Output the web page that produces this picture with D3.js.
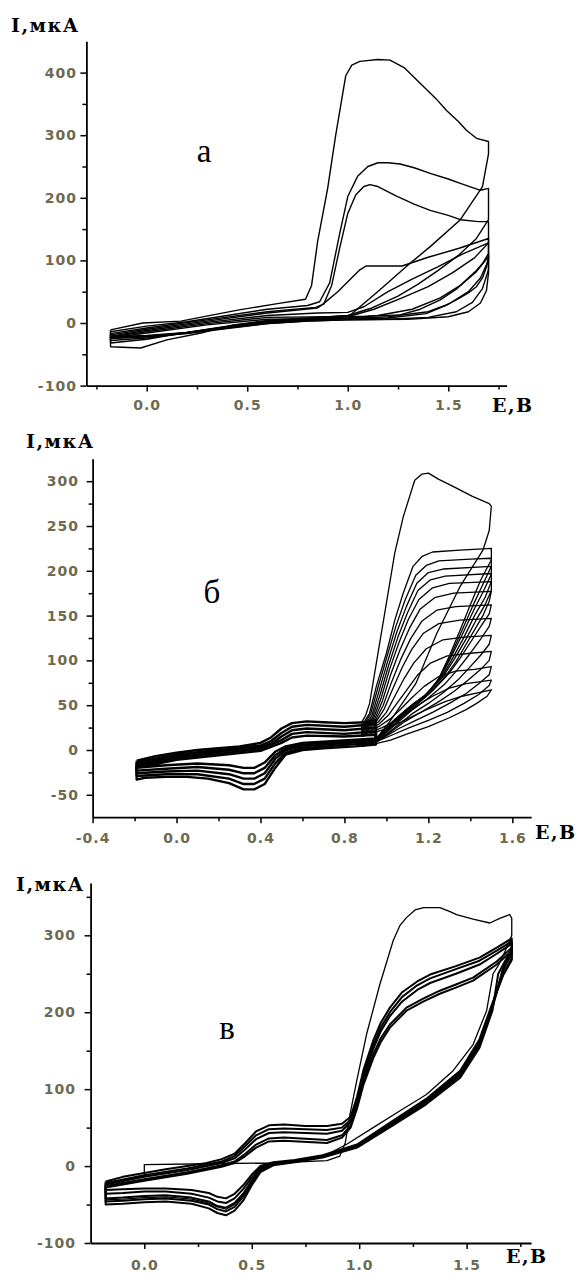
<!DOCTYPE html>
<html lang="ru">
<head>
<meta charset="UTF-8">
<title>Циклические вольтамперограммы</title>
<script src="https://d3js.org/d3.v7.min.js"></script>
<style>
    body { margin: 0; background: #fff; }
    svg { display: block; }
    .curve { fill: none; stroke: #000; stroke-linejoin: round; }
    .domain { stroke: #000; stroke-width: 1.8px; }
    .tick line { stroke: #000; stroke-width: 1.5px; }
    .tick text { font-family: "DejaVu Sans", sans-serif; font-size: 14px; font-weight: bold; fill: #6e6a50; letter-spacing: 1px; }
    .axis-title { font-family: "DejaVu Serif", serif; font-size: 19px; font-weight: bold; fill: #000; letter-spacing: 1.5px; }
    .panel-label { font-family: "Liberation Serif", serif; font-size: 33px; fill: #000; }
</style>
</head>
<body>
<script>
// --- panel а ---
const xTicksA = [0.0, 0.5, 1.0, 1.5];
const xMinorA = [-0.25, 0.25, 0.75, 1.25, 1.75];
const yTicksA = [-100, 0, 100, 200, 300, 400];
const yMinorA = [-50, 50, 150, 250, 350];
const cyclesA = [
    [[-0.18,-11],[-0.02,0],[0.17,3],[0.33,13],[0.46,21],[0.65,31],[0.79,38],[0.82,60],[0.85,130],[0.9,215],[0.94,300],[0.99,395],[1.02,412],[1.06,418],[1.15,421],[1.21,420],[1.28,408],[1.36,383],[1.44,358],[1.49,340],[1.55,322],[1.59,308],[1.64,295],[1.7,290],[1.7,270],[1.67,218],[1.56,165],[1.41,122],[1.29,90],[1.16,53],[1.01,12],[0.8,8],[0.6,4],[0.43,-3],[0.27,-16],[0.1,-27],[-0.03,-40],[-0.18,-38],[-0.18,-11]],
    [[-0.18,-14],[0,-5],[0.2,2],[0.4,12],[0.6,22],[0.8,28],[0.86,34],[0.91,64],[0.96,143],[1.0,202],[1.05,235],[1.1,250],[1.15,256],[1.2,256],[1.26,254],[1.33,248],[1.41,239],[1.5,230],[1.56,223],[1.66,212],[1.7,215],[1.7,165],[1.64,135],[1.55,108],[1.45,84],[1.35,62],[1.25,43],[1.12,24],[1.0,12],[0.8,7],[0.6,3],[0.4,-5],[0.2,-15],[0,-26],[-0.18,-32],[-0.18,-14]],
    [[-0.18,-17],[0,-8],[0.3,5],[0.6,18],[0.84,25],[0.88,30],[0.92,60],[0.96,120],[1.0,175],[1.04,205],[1.08,218],[1.11,221],[1.15,218],[1.24,203],[1.33,190],[1.41,180],[1.5,172],[1.56,165],[1.65,162],[1.7,162],[1.7,128],[1.63,104],[1.52,80],[1.4,58],[1.27,40],[1.13,22],[1.0,10],[0.8,6],[0.6,2],[0.4,-6],[0.2,-16],[0,-24],[-0.18,-28],[-0.18,-17]],
    [[-0.18,-19],[0,-10],[0.3,3],[0.6,16],[0.85,24],[0.88,31],[0.95,50],[1.01,69],[1.06,85],[1.09,91],[1.27,91],[1.4,105],[1.55,119],[1.7,135],[1.7,106],[1.64,82],[1.56,60],[1.46,40],[1.32,22],[1.15,12],[1.0,8],[0.8,5],[0.6,1],[0.4,-6],[0.2,-15],[0,-22],[-0.18,-25],[-0.18,-19]],
    [[-0.18,-21],[0,-12],[0.3,1],[0.6,12],[0.85,16],[1.0,17],[1.08,26],[1.2,50],[1.32,70],[1.45,90],[1.57,110],[1.7,128],[1.7,100],[1.66,72],[1.6,50],[1.5,30],[1.4,18],[1.2,10],[1.0,7],[0.8,4],[0.6,0],[0.4,-7],[0.2,-15],[0,-20],[-0.18,-22]],
    [[-0.18,-22],[0,-14],[0.3,-1],[0.6,9],[0.9,10],[1.1,11],[1.26,13],[1.36,22],[1.46,37],[1.54,54],[1.59,69],[1.64,84],[1.67,95],[1.7,111],[1.7,85],[1.67,55],[1.62,33],[1.54,18],[1.4,9],[1.2,6],[1.0,5],[0.8,3],[0.6,-1],[0.4,-8],[0.2,-16],[0,-21],[-0.18,-23]],
    [[-0.18,-24],[0,-16],[0.3,-3],[0.6,6],[0.9,7],[1.2,8],[1.39,15],[1.48,27],[1.54,37],[1.6,48],[1.64,58],[1.67,72],[1.69,90],[1.7,106],[1.7,80],[1.69,52],[1.66,32],[1.6,18],[1.5,10],[1.3,6],[1.0,5],[0.8,3],[0.6,-1],[0.4,-9],[0.2,-17],[0,-22],[-0.18,-24]]
];

// --- panel б ---
const xTicksB = [-0.4, 0.0, 0.4, 0.8, 1.2, 1.6];
const xMinorB = [-0.2, 0.2, 0.6, 1.0, 1.4];
const yTicksB = [-50, 0, 50, 100, 150, 200, 250, 300];
const yMinorB = [-25, 25, 75, 125, 175, 225, 275];
// low-potential part of the cycles (redox couple)
const lowLoopsB = [
    [[-0.19,-12],[-0.1,-7],[0,-3],[0.1,0],[0.2,2],[0.3,4],[0.4,8],[0.45,14],[0.5,24],[0.55,30],[0.62,32],[0.7,31],[0.8,30],[0.9,31],[0.95,33],[0.95,6],[0.85,4],[0.7,2],[0.6,0],[0.52,-5],[0.47,-20],[0.42,-38],[0.37,-44],[0.32,-44],[0.25,-37],[0.15,-32],[0.05,-30],[-0.05,-30],[-0.15,-31],[-0.19,-33],[-0.19,-12]],
    [[-0.19,-14],[0,-5],[0.2,0],[0.4,5],[0.45,10],[0.5,19],[0.55,26],[0.62,28],[0.8,26],[0.95,29],[0.95,8],[0.7,4],[0.6,2],[0.52,-3],[0.47,-15],[0.42,-32],[0.37,-38],[0.32,-38],[0.25,-32],[0.1,-27],[-0.05,-27],[-0.19,-29],[-0.19,-14]],
    [[-0.19,-16],[0,-7],[0.2,-2],[0.4,3],[0.45,7],[0.5,15],[0.55,22],[0.62,24],[0.8,22],[0.95,25],[0.95,10],[0.7,6],[0.6,4],[0.52,0],[0.47,-10],[0.42,-26],[0.37,-32],[0.32,-32],[0.25,-27],[0.1,-23],[-0.05,-24],[-0.19,-26],[-0.19,-16]],
    [[-0.19,-18],[0,-9],[0.2,-4],[0.4,1],[0.5,11],[0.55,18],[0.62,20],[0.8,18],[0.95,21],[0.95,12],[0.6,6],[0.52,2],[0.47,-6],[0.42,-20],[0.37,-26],[0.32,-26],[0.25,-22],[0.1,-19],[-0.05,-21],[-0.19,-23],[-0.19,-18]],
    [[-0.19,-20],[0,-11],[0.2,-6],[0.4,-1],[0.5,8],[0.55,14],[0.62,16],[0.8,15],[0.95,17],[0.95,13],[0.6,8],[0.52,4],[0.47,-2],[0.42,-14],[0.37,-20],[0.32,-20],[0.25,-17],[0.1,-15],[-0.05,-17],[-0.19,-20]]
];
// high-potential part of the cycles (oxidation wave)
const highCyclesB = [
    [[0.88,30],[0.9,38],[0.92,52],[0.96,108],[1.0,164],[1.04,220],[1.08,260],[1.135,301],[1.17,308],[1.2,309],[1.25,302],[1.32,294],[1.41,283],[1.49,275],[1.5,272],[1.49,245],[1.46,223],[1.35,182],[1.24,130],[1.14,74],[1.02,33],[0.95,12],[0.88,6]],
    [[0.88,26],[0.92,41],[0.952,71],[1.0,108],[1.04,145],[1.08,175],[1.127,205],[1.17,216],[1.22,221],[1.35,223],[1.5,225],[1.5,212],[1.45,190],[1.4,162],[1.35,133],[1.3,105],[1.25,80],[1.2,64],[1.13,52],[1.05,36],[0.96,14],[0.88,6]],
    [[0.88,25],[0.925,40],[0.96,70],[1.0,102],[1.045,138],[1.09,168],[1.14,195],[1.19,206],[1.25,211],[1.4,213],[1.5,214],[1.5,205],[1.46,185],[1.41,160],[1.35,128],[1.3,102],[1.25,79],[1.19,62],[1.12,50],[1.04,34],[0.96,13],[0.88,6]],
    [[0.88,24],[0.93,38],[0.965,66],[1.005,98],[1.05,132],[1.095,160],[1.145,186],[1.2,198],[1.27,202],[1.5,205],[1.5,196],[1.46,176],[1.42,158],[1.36,128],[1.3,100],[1.25,78],[1.18,60],[1.1,46],[1.02,30],[0.95,12],[0.88,6]],
    [[0.88,23],[0.935,37],[0.97,62],[1.01,94],[1.055,126],[1.1,153],[1.15,178],[1.21,190],[1.28,194],[1.5,197],[1.5,188],[1.47,170],[1.42,150],[1.37,126],[1.31,100],[1.26,80],[1.18,60],[1.1,45],[1.02,29],[0.95,12],[0.88,6]],
    [[0.88,22],[0.94,36],[0.975,58],[1.015,90],[1.06,120],[1.105,146],[1.155,168],[1.22,181],[1.3,186],[1.5,188],[1.5,178],[1.47,162],[1.43,146],[1.38,124],[1.32,100],[1.27,82],[1.2,64],[1.12,48],[1.03,30],[0.95,12],[0.88,6]],
    [[0.88,22],[0.945,35],[0.98,54],[1.02,84],[1.065,112],[1.11,136],[1.16,157],[1.23,170],[1.32,175],[1.5,177],[1.49,166],[1.46,150],[1.42,134],[1.38,118],[1.33,98],[1.28,82],[1.2,62],[1.12,46],[1.03,28],[0.95,11],[0.88,6]],
    [[0.88,21],[0.95,34],[0.985,50],[1.025,76],[1.07,102],[1.115,124],[1.17,144],[1.24,156],[1.33,160],[1.5,162],[1.49,152],[1.45,138],[1.4,120],[1.35,102],[1.3,86],[1.22,66],[1.14,50],[1.05,32],[0.96,12],[0.88,6]],
    [[0.88,20],[0.955,33],[0.99,46],[1.03,68],[1.075,92],[1.12,112],[1.175,130],[1.25,141],[1.35,145],[1.5,147],[1.49,138],[1.45,124],[1.4,108],[1.34,90],[1.28,74],[1.2,58],[1.12,44],[1.04,28],[0.96,11],[0.88,6]],
    [[0.88,19],[0.96,31],[1.0,42],[1.04,60],[1.085,80],[1.13,97],[1.19,113],[1.27,123],[1.37,126],[1.5,128],[1.49,118],[1.45,106],[1.4,93],[1.34,78],[1.27,64],[1.2,52],[1.12,40],[1.04,25],[0.96,10],[0.88,6]],
    [[0.88,18],[0.965,29],[1.01,39],[1.05,52],[1.1,68],[1.15,84],[1.21,97],[1.29,105],[1.4,108],[1.5,110],[1.49,100],[1.45,90],[1.39,78],[1.32,65],[1.25,54],[1.17,43],[1.09,32],[1.02,20],[0.95,9],[0.88,5]],
    [[0.88,17],[0.97,27],[1.02,35],[1.07,46],[1.12,58],[1.18,71],[1.25,82],[1.33,88],[1.42,90],[1.5,93],[1.49,84],[1.44,74],[1.38,63],[1.3,52],[1.22,42],[1.14,33],[1.06,24],[0.98,13],[0.88,5]],
    [[0.88,16],[0.98,25],[1.03,31],[1.09,40],[1.15,50],[1.22,60],[1.3,69],[1.38,74],[1.5,78],[1.49,72],[1.44,62],[1.37,52],[1.29,42],[1.2,33],[1.11,25],[1.03,17],[0.95,9],[0.88,5]],
    [[0.88,15],[0.99,23],[1.05,29],[1.12,37],[1.2,46],[1.28,54],[1.36,60],[1.44,64],[1.5,67],[1.48,60],[1.43,52],[1.38,45],[1.3,36],[1.2,26],[1.1,18],[1.02,11],[0.95,7],[0.88,4]]
];

// --- panel в ---
const xTicksC = [0.0, 0.5, 1.0, 1.5];
const xMinorC = [0.25, 0.75, 1.25, 1.75];
const yTicksC = [-100, 0, 100, 200, 300];
const yMinorC = [-50, 50, 150, 250, 350];
// first scan, started at 0 V
const firstCycleC = [
    [[0.0,-12],[0.0,2],[0.3,3],[0.6,4],[0.85,7],[0.91,13],[0.935,30],[0.957,67],[0.988,110],[1.034,171],[1.096,236],[1.158,293],[1.19,313],[1.22,323],[1.26,333],[1.3,336],[1.375,336],[1.42,331],[1.453,327],[1.53,321],[1.608,316],[1.654,322],[1.7,327],[1.71,322],[1.71,300],[1.68,280],[1.65,262],[1.623,250],[1.593,202],[1.53,158],[1.437,124],[1.313,93],[1.19,72],[1.065,50],[0.94,28],[0.85,15],[0.7,6],[0.6,3],[0.54,-5],[0.5,-20],[0.46,-38],[0.42,-50],[0.38,-56],[0.34,-53],[0.3,-48],[0.22,-43],[0.1,-40],[0,-41],[-0.1,-43],[-0.18,-44]]
];
const cyclesC = [
    [[-0.18,-20],[-0.1,-14],[0.0,-9],[0.1,-4],[0.2,0],[0.29,4],[0.36,9],[0.42,16],[0.47,30],[0.52,45],[0.58,53],[0.65,54],[0.75,52],[0.85,52],[0.92,55],[0.96,64],[0.99,90],[1.02,125],[1.065,163],[1.1,186],[1.143,206],[1.2,226],[1.27,240],[1.33,249],[1.45,260],[1.56,271],[1.64,284],[1.71,296],[1.71,282],[1.67,262],[1.647,250],[1.62,202],[1.56,154],[1.47,115],[1.31,80],[1.14,50],[0.99,24],[0.83,11],[0.7,5],[0.6,1],[0.54,-8],[0.5,-25],[0.46,-45],[0.42,-58],[0.38,-64],[0.34,-61],[0.3,-55],[0.22,-49],[0.1,-46],[0.0,-47],[-0.1,-49],[-0.18,-50],[-0.18,-20]],
    [[-0.18,-22],[0,-12],[0.2,-3],[0.36,6],[0.42,13],[0.47,26],[0.52,40],[0.58,48],[0.65,49],[0.85,47],[0.92,50],[0.96,60],[0.99,86],[1.02,120],[1.065,157],[1.1,180],[1.143,200],[1.2,220],[1.27,235],[1.33,244],[1.45,256],[1.56,267],[1.64,280],[1.71,292],[1.71,279],[1.67,258],[1.62,205],[1.56,158],[1.47,118],[1.31,82],[1.14,52],[0.99,25],[0.83,12],[0.7,6],[0.6,3],[0.54,-6],[0.5,-22],[0.46,-40],[0.42,-53],[0.38,-59],[0.34,-56],[0.3,-50],[0.22,-45],[0.1,-42],[0,-43],[-0.1,-45],[-0.18,-46],[-0.18,-22]],
    [[-0.18,-24],[0,-14],[0.2,-5],[0.36,4],[0.42,10],[0.47,22],[0.52,35],[0.58,43],[0.65,44],[0.85,42],[0.92,46],[0.96,57],[0.99,82],[1.02,116],[1.065,152],[1.1,175],[1.143,195],[1.2,214],[1.27,229],[1.33,238],[1.45,250],[1.56,262],[1.64,276],[1.71,289],[1.71,276],[1.67,255],[1.62,208],[1.56,160],[1.47,120],[1.31,84],[1.14,53],[0.99,26],[0.83,12],[0.7,6],[0.6,3],[0.54,-4],[0.5,-19],[0.46,-36],[0.42,-48],[0.38,-54],[0.34,-52],[0.3,-46],[0.22,-41],[0.1,-38],[0,-39],[-0.1,-41],[-0.18,-42],[-0.18,-24]],
    [[-0.18,-26],[0,-17],[0.2,-8],[0.36,1],[0.42,6],[0.47,16],[0.52,28],[0.58,36],[0.65,37],[0.85,34],[0.92,40],[0.96,53],[0.99,78],[1.02,110],[1.065,145],[1.1,166],[1.143,184],[1.22,206],[1.3,218],[1.375,228],[1.45,236],[1.53,245],[1.64,266],[1.71,284],[1.71,270],[1.67,250],[1.62,210],[1.56,162],[1.47,122],[1.31,85],[1.14,54],[0.99,27],[0.83,13],[0.7,7],[0.6,4],[0.54,-2],[0.5,-15],[0.46,-30],[0.42,-42],[0.38,-48],[0.34,-46],[0.3,-41],[0.22,-36],[0.1,-33],[0,-33],[-0.1,-35],[-0.18,-36],[-0.18,-26]],
    [[-0.18,-28],[0,-19],[0.2,-10],[0.36,-1],[0.42,4],[0.47,13],[0.52,24],[0.58,32],[0.65,33],[0.85,30],[0.92,37],[0.96,50],[0.99,75],[1.02,106],[1.065,140],[1.1,161],[1.143,180],[1.22,202],[1.3,214],[1.375,224],[1.45,232],[1.53,241],[1.64,262],[1.71,280],[1.71,268],[1.67,248],[1.62,212],[1.56,165],[1.47,124],[1.31,87],[1.14,56],[0.99,28],[0.83,14],[0.7,8],[0.6,5],[0.54,0],[0.5,-11],[0.46,-25],[0.42,-36],[0.38,-42],[0.34,-40],[0.3,-35],[0.22,-31],[0.1,-29],[0,-29],[-0.1,-30],[-0.18,-31],[-0.18,-28]]
];

const panelLabels = ["а", "б", "в"];
const yTitle = "I,мкА";
const xTitle = "E,B";

// layout of the three panels (pixels)
const panels = [
    { label: panelLabels[0], groups: [{ curves: cyclesA, width: 1.4 }],
      xDomain: [-0.3, 1.79], yDomain: [-100, 450],
      left: 86.4, right: 506.6, top: 41.3, bottom: 385.6,
      xTicks: xTicksA, xMinor: xMinorA, yTicks: yTicksA, yMinor: yMinorA,
      xPad: 8.5, yPad: 3.5, yTitlePos: [11, 32], xTitlePos: [492, 412], labelPos: [204, 162] },
    { label: panelLabels[1], groups: [{ curves: lowLoopsB, width: 2.4 }, { curves: highCyclesB, width: 1.3 }],
      xDomain: [-0.4, 1.69], yDomain: [-75, 325],
      left: 92.6, right: 531.2, top: 458.8, bottom: 817.2,
      xTicks: xTicksB, xMinor: xMinorB, yTicks: yTicksB, yMinor: yMinorB,
      xPad: 10, yPad: 7.5, yTitlePos: [26, 448], xTitlePos: [535, 839], labelPos: [212, 603] },
    { label: panelLabels[2], groups: [{ curves: cyclesC, width: 2.0 }, { curves: firstCycleC, width: 1.3 }],
      xDomain: [-0.25, 1.8], yDomain: [-100, 368],
      left: 90.6, right: 531.1, top: 883, bottom: 1243,
      xTicks: xTicksC, xMinor: xMinorC, yTicks: yTicksC, yMinor: yMinorC,
      xPad: 11, yPad: 8.5, yTitlePos: [16, 891], xTitlePos: [506, 1263], labelPos: [227, 1039] }
];

const svg = d3.select("body").append("svg")
    .attr("width", 581)
    .attr("height", 1276);

panels.forEach(p => {
    const x = d3.scaleLinear().domain(p.xDomain).range([p.left, p.right]);
    const y = d3.scaleLinear().domain(p.yDomain).range([p.bottom, p.top]);
    const g = svg.append("g");

    const line = d3.line()
        .x(d => x(d[0]))
        .y(d => y(d[1]));

    p.groups.forEach(grp => {
        g.append("g")
            .selectAll("path")
            .data(grp.curves)
            .join("path")
            .attr("class", "curve")
            .attr("stroke-width", grp.width)
            .attr("d", line);
    });

    // minor ticks first, then main axes on top
    g.append("g")
        .attr("transform", `translate(0,${p.bottom})`)
        .call(d3.axisBottom(x).tickValues(p.xMinor).tickSize(4).tickFormat(""))
        .call(a => a.select(".domain").remove());
    g.append("g")
        .attr("transform", `translate(${p.left},0)`)
        .call(d3.axisLeft(y).tickValues(p.yMinor).tickSize(4).tickFormat(""))
        .call(a => a.select(".domain").remove());

    g.append("g")
        .attr("transform", `translate(0,${p.bottom})`)
        .call(d3.axisBottom(x).tickValues(p.xTicks).tickSize(6).tickSizeOuter(0)
            .tickPadding(p.xPad).tickFormat(d => d.toFixed(1)));
    g.append("g")
        .attr("transform", `translate(${p.left},0)`)
        .call(d3.axisLeft(y).tickValues(p.yTicks).tickSize(6).tickSizeOuter(0)
            .tickPadding(p.yPad).tickFormat(d => String(d)));

    g.append("text")
        .attr("class", "axis-title")
        .attr("x", p.yTitlePos[0])
        .attr("y", p.yTitlePos[1])
        .text(yTitle);
    g.append("text")
        .attr("class", "axis-title")
        .attr("x", p.xTitlePos[0])
        .attr("y", p.xTitlePos[1])
        .text(xTitle);
    g.append("text")
        .attr("class", "panel-label")
        .attr("x", p.labelPos[0])
        .attr("y", p.labelPos[1])
        .attr("text-anchor", "middle")
        .text(p.label);
});
</script>
</body>
</html>
